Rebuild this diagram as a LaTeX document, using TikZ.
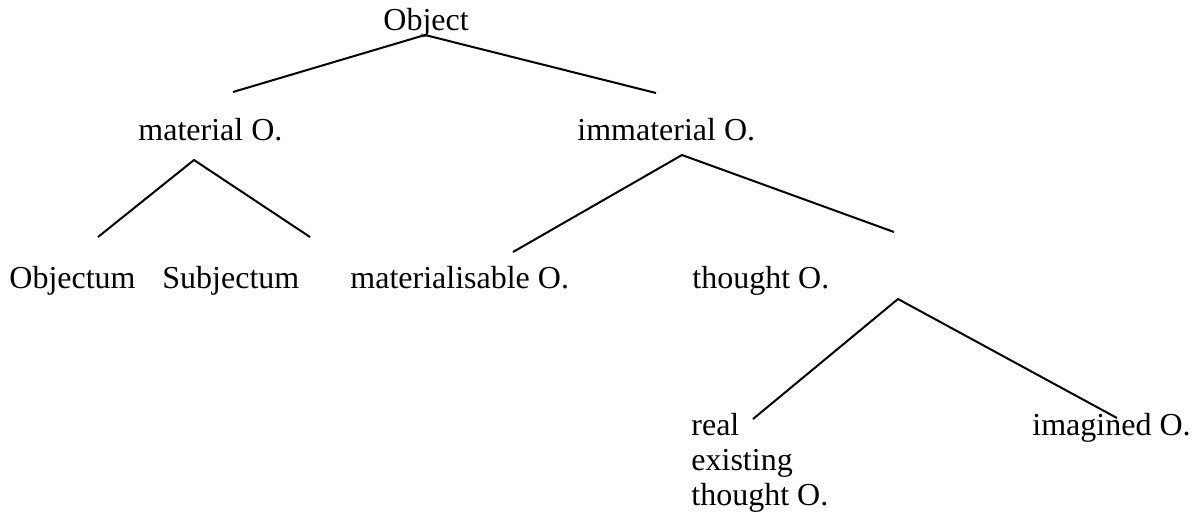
\documentclass[tikz,border=0pt]{standalone}
\usepackage{fontspec}
\setmainfont{Liberation Serif}

\begin{document}
\begin{tikzpicture}[
		x=0.5pt, y=-0.5pt,
		concept/.style={anchor=base west, inner sep=0pt, align=left, font=\fontsize{16}{17.5}\selectfont},
		branch/.style={draw=black, line width=1pt}
		]
		\useasboundingbox (0,0) rectangle (1193,515);
		
		% Root
		\node[concept] (obj) at (383,30) {Object};
		\coordinate (obj-top) at (425,35);
		\coordinate (obj-l) at (233,92);
		\coordinate (obj-r) at (656,93);
		
		% Second level
		\node[concept] (mat) at (138,140) {material O.};
		\node[concept] (immat) at (577,140) {immaterial O.};
		\coordinate (mat-top) at (194,160);
		\coordinate (mat-l) at (98,237);
		\coordinate (mat-r) at (310,237);
		\coordinate (immat-top) at (682,155);
		\coordinate (immat-l) at (513,252);
		\coordinate (immat-r) at (894,232);
		
		% Third level
		\node[concept] (objectum) at (9,288) {Objectum};
		\node[concept] (subjectum) at (162,288) {Subjectum};
		\node[concept] (matable) at (350,288) {materialisable O.};
		\node[concept] (thought) at (692,288) {thought O.};
		\coordinate (thought-top) at (898,299);
		\coordinate (thought-l) at (753,419);
		\coordinate (thought-r) at (1117,418);
		
		% Fourth level (base is the last line)
		\node[concept] (real) at (691,505) {real\\existing\\thought O.};
		\node[concept] (imag) at (1032,435) {imagined O.};
		
		% Connect them
		\draw[branch] (obj-l) -- (obj-top) -- (obj-r);
		\draw[branch] (mat-l) -- (mat-top) -- (mat-r);
		\draw[branch] (immat-l) -- (immat-top) -- (immat-r);
		\draw[branch] (thought-l) -- (thought-top) -- (thought-r);
	\end{tikzpicture}
\end{document}
